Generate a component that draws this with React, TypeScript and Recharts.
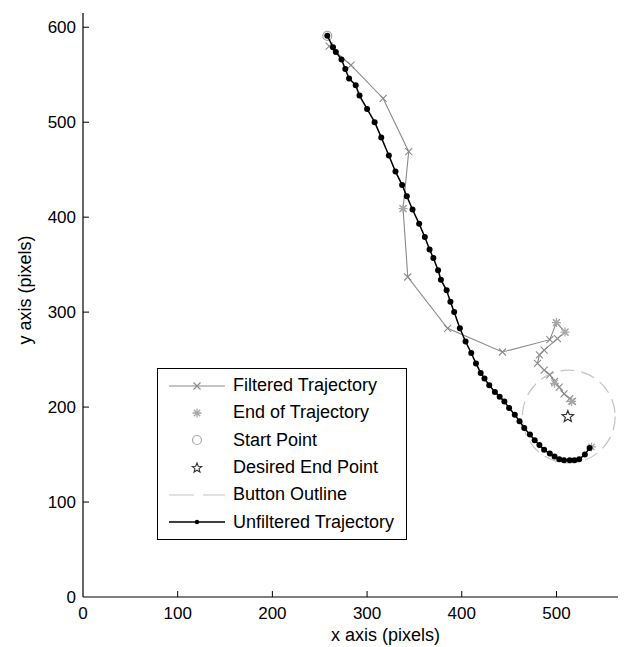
import React from 'react';
import { ScatterChart, Scatter, XAxis, YAxis, Legend, Label } from 'recharts';

// axis setup (axis equal style)
const xDomain = [0, 565];
const yDomain = [0, 615];
const xTicks = [0, 100, 200, 300, 400, 500];
const yTicks = [0, 100, 200, 300, 400, 500, 600];

// filtered trajectory
const filteredX = [260, 283, 317, 344, 338, 343, 385, 443, 493, 500, 509, 501, 487, 482, 480, 487, 493, 498, 503, 508, 514, 517];
const filteredY = [580, 560, 525, 469, 409, 337, 283, 258, 271, 289, 279, 272, 260, 255, 246, 239, 234, 227, 221, 214, 209, 206];

// end of trajectory markers
const endX = [338, 500, 509, 498, 516, 537];
const endY = [409, 289, 279, 225, 206, 158];

// start and desired end
const startX = [258];
const startY = [591];
const desiredX = [512];
const desiredY = [190];

// button outline (centre + radius in data units)
const buttonX = [513];
const buttonY = [190];
const buttonRadius = 49;

// unfiltered trajectory
const rawX = [258, 264, 267, 273, 277, 281, 288, 292, 300, 308, 315, 323, 330, 337, 342, 348, 355, 361, 366, 370, 375, 378, 384, 388, 392, 398, 404, 410, 415, 420, 424, 429, 435, 440, 445, 450, 456, 461, 466, 472, 477, 482, 487, 493, 498, 503, 508, 514, 519, 524, 530, 535];
const rawY = [591, 579, 574, 566, 556, 546, 539, 528, 514, 500, 484, 465, 448, 434, 422, 408, 393, 379, 366, 357, 344, 334, 323, 311, 300, 283, 269, 257, 246, 236, 230, 223, 216, 211, 206, 199, 192, 185, 178, 171, 165, 160, 155, 151, 148, 145, 144, 144, 144, 145, 150, 157];

const zip = (xs: number[], ys: number[]) => xs.map((x, i) => ({ x, y: ys[i] }));

const filteredData = zip(filteredX, filteredY);
const endData = zip(endX, endY);
const startData = zip(startX, startY);
const desiredData = zip(desiredX, desiredY);
const buttonData = zip(buttonX, buttonY);
const rawData = zip(rawX, rawY);

const W = 625;
const H = 647;
const margin = { top: 13, right: 7, bottom: 20, left: 23 };
const yAxisW = 60;
const plotW = W - margin.left - margin.right - yAxisW;
const pxPerUnit = plotW / (xDomain[1] - xDomain[0]);

const FONT = '"Liberation Sans", Arial, Helvetica, sans-serif';
const GRAY = '#8a8a8a';
const LIGHT = '#a8a8a8';

const starPath = (cx: number, cy: number, R: number, r: number) => {
  let d = '';
  for (let i = 0; i < 10; i++) {
    const a = -Math.PI / 2 + (i * Math.PI) / 5;
    const rr = i % 2 === 0 ? R : r;
    d += (i === 0 ? 'M' : 'L') + (cx + rr * Math.cos(a)).toFixed(2) + ',' + (cy + rr * Math.sin(a)).toFixed(2);
  }
  return d + 'Z';
};

const XMark = (p: any) => {
  const { cx, cy } = p;
  const s = 3.5;
  return (
    <path
      d={`M${cx - s},${cy - s}L${cx + s},${cy + s}M${cx - s},${cy + s}L${cx + s},${cy - s}`}
      stroke={GRAY}
      strokeWidth={1.1}
      fill="none"
    />
  );
};

const Asterisk = (p: any) => {
  const { cx, cy } = p;
  const s = 4.5;
  const d = 3.2;
  return (
    <path
      d={`M${cx - s},${cy}L${cx + s},${cy}M${cx},${cy - s}L${cx},${cy + s}M${cx - d},${cy - d}L${cx + d},${cy + d}M${cx - d},${cy + d}L${cx + d},${cy - d}`}
      stroke={LIGHT}
      strokeWidth={1.3}
      fill="none"
    />
  );
};

const StartMark = (p: any) => <circle cx={p.cx} cy={p.cy} r={4.5} stroke={LIGHT} strokeWidth={1.2} fill="none" />;

const StarMark = (p: any) => <path d={starPath(p.cx, p.cy, 6, 2.6)} stroke="#333" strokeWidth={1.2} fill="none" />;

const ButtonMark = (p: any) => (
  <circle
    cx={p.cx}
    cy={p.cy}
    r={buttonRadius * pxPerUnit}
    stroke="#c4c4c4"
    strokeWidth={1.2}
    strokeDasharray="14 7"
    fill="none"
  />
);

const DotMark = (p: any) => <circle cx={p.cx} cy={p.cy} r={3} fill="#000" />;

const XTick = (p: any) => {
  const { x, y, payload } = p;
  return (
    <g>
      {payload.value !== 0 && <line x1={x} x2={x} y1={y - 8} y2={y - 14} stroke="#000" strokeWidth={1} />}
      <text x={x} y={y} dy="0.8em" textAnchor="middle" fontSize={17} fontFamily={FONT} fill="#000">
        {payload.value}
      </text>
    </g>
  );
};

const YTick = (p: any) => {
  const { x, y, payload } = p;
  return (
    <g>
      {payload.value !== 0 && <line x1={x + 7} x2={x + 13} y1={y} y2={y} stroke="#000" strokeWidth={1} />}
      <text x={x} y={y} dy="0.36em" textAnchor="end" fontSize={17} fontFamily={FONT} fill="#000">
        {payload.value}
      </text>
    </g>
  );
};

const legendRows = [
  { label: 'Filtered Trajectory', kind: 'filtered' },
  { label: 'End of Trajectory', kind: 'end' },
  { label: 'Start Point', kind: 'start' },
  { label: 'Desired End Point', kind: 'desired' },
  { label: 'Button Outline', kind: 'button' },
  { label: 'Unfiltered Trajectory', kind: 'raw' },
];

const LegendIcon = ({ kind }: { kind: string }) => {
  const w = 60;
  const c = 30;
  const m = 10;
  let body: React.ReactNode = null;
  if (kind === 'filtered') {
    body = (
      <>
        <line x1={2} x2={w - 2} y1={m} y2={m} stroke={GRAY} strokeWidth={1.1} />
        <XMark cx={c} cy={m} />
      </>
    );
  } else if (kind === 'end') {
    body = <Asterisk cx={c} cy={m} />;
  } else if (kind === 'start') {
    body = <StartMark cx={c} cy={m} />;
  } else if (kind === 'desired') {
    body = <path d={starPath(c, m, 5, 2.2)} stroke="#333" strokeWidth={1.1} fill="none" />;
  } else if (kind === 'button') {
    body = <line x1={2} x2={w - 2} y1={m} y2={m} stroke="#c4c4c4" strokeWidth={1.2} strokeDasharray="25 9" />;
  } else {
    body = (
      <>
        <line x1={2} x2={w - 2} y1={m} y2={m} stroke="#000" strokeWidth={1.3} />
        <circle cx={c} cy={m} r={2.2} fill="#000" />
      </>
    );
  }
  return (
    <svg width={w} height={20} style={{ display: 'block' }}>
      {body}
    </svg>
  );
};

const LegendBox = () => (
  <div
    style={{
      width: 248,
      height: 167,
      border: '1px solid #000',
      background: '#fff',
      boxSizing: 'content-box',
      paddingTop: 3,
      fontFamily: FONT,
      fontSize: 18,
      color: '#000',
    }}
  >
    {legendRows.map((r) => (
      <div key={r.kind} style={{ display: 'flex', alignItems: 'center', height: 27.3, paddingLeft: 9 }}>
        <LegendIcon kind={r.kind} />
        <span style={{ marginLeft: 6, whiteSpace: 'nowrap' }}>{r.label}</span>
      </div>
    ))}
  </div>
);

const App = () => {
  return (
    <div style={{ position: 'absolute', left: 0, top: 0, width: W, height: H, background: '#fff' }}>
      <ScatterChart width={W} height={H} margin={margin}>
        <XAxis
          type="number"
          dataKey="x"
          domain={xDomain}
          ticks={xTicks}
          height={30}
          axisLine={{ stroke: '#000', strokeWidth: 1.2 }}
          tickLine={false}
          tickSize={0}
          tickMargin={8}
          tick={XTick}
          allowDataOverflow
        >
          <Label
            value="x axis (pixels)"
            position="bottom"
            offset={1}
            dx={35}
            style={{ fontSize: 18, fontFamily: FONT, fill: '#000' }}
          />
        </XAxis>
        <YAxis
          type="number"
          dataKey="y"
          domain={yDomain}
          ticks={yTicks}
          width={yAxisW}
          axisLine={{ stroke: '#000', strokeWidth: 1.2 }}
          tickLine={false}
          tickSize={0}
          tickMargin={7}
          tick={YTick}
          allowDataOverflow
        >
          <Label
            content={() => (
              <text
                x={25}
                y={290}
                transform="rotate(-90 25 290)"
                textAnchor="middle"
                dominantBaseline="central"
                fontSize={18}
                fontFamily={FONT}
                fill="#000"
              >
                y axis (pixels)
              </text>
            )}
          />
        </YAxis>
        <Scatter data={buttonData} shape={ButtonMark} isAnimationActive={false} />
        <Scatter
          data={filteredData}
          line={{ stroke: GRAY, strokeWidth: 1.1 }}
          lineJointType="linear"
          shape={XMark}
          isAnimationActive={false}
        />
        <Scatter data={endData} shape={Asterisk} isAnimationActive={false} />
        <Scatter data={startData} shape={StartMark} isAnimationActive={false} />
        <Scatter data={desiredData} shape={StarMark} isAnimationActive={false} />
        <Scatter
          data={rawData}
          line={{ stroke: '#000', strokeWidth: 1.5 }}
          lineJointType="linear"
          shape={DotMark}
          isAnimationActive={false}
        />
        <Legend
          layout="horizontal"
          verticalAlign="middle"
          align="center"
          content={() => <LegendBox />}
          wrapperStyle={{ position: 'absolute', left: 157, top: 368, width: 'auto', height: 'auto' }}
        />
      </ScatterChart>
    </div>
  );
};

export default App;
